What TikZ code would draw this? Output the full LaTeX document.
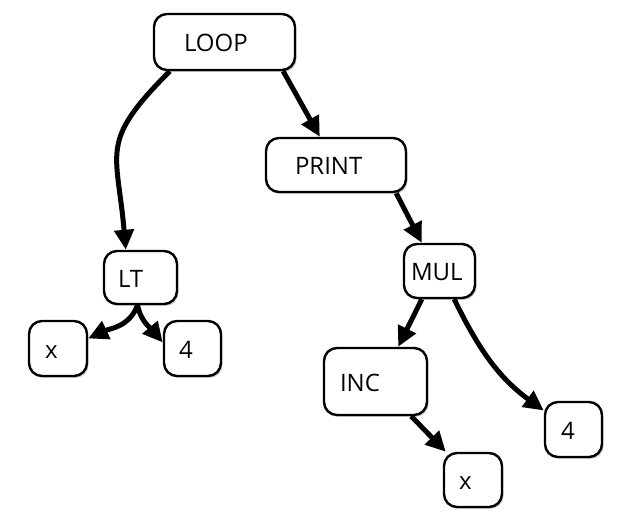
\documentclass[tikz,border=0pt]{standalone}
\usepackage{fontspec}
\setmainfont{Open Sans}
\usepackage{tikz}
\usetikzlibrary{arrows.meta,shadows}

\begin{document}
\begin{tikzpicture}[->,>={Triangle[length=20pt,width=19pt]},line width=5pt,
                    x=1pt,y=1pt,
                    font=\fontsize{24}{29}\selectfont,
                    box/.style={draw,-,fill=white,line width=2.4pt,
                      rounded corners=13pt,align=left,
                      text height=20pt,text depth=0pt,inner ysep=0pt,
                      drop shadow={shadow xshift=1.5pt,shadow yshift=-2pt,
                                   opacity=0.2,fill=black}}]

\useasboundingbox (0,0) rectangle (624,516);

\node[box,text width=81pt,inner xsep=30pt,minimum height=56pt] (LOOP) at(224.5,474) {LOOP};
\node[box,text width=82pt,inner xsep=29pt,minimum height=54pt] (PRINT) at(336,351) {PRINT};
\node[box,text width=45pt,inner xsep=14pt,minimum height=53pt] (LT) at(140.5,238.5) {LT};
\node[box,text width=26pt,inner xsep=16pt,minimum height=55pt] (X1) at(58,167.5) {x};
\node[box,text width=27pt,inner xsep=15pt,minimum height=55pt] (FOUR1) at(192.5,167.5) {4};
\node[box,text width=57pt,inner xsep=7pt,minimum height=54pt] (MUL) at(439.5,245) {MUL};
\node[box,text width=71pt,inner xsep=16pt,minimum height=67pt] (INC) at(375.5,134.5) {INC};
\node[box,text width=25pt,inner xsep=16pt,minimum height=55pt] (FOUR2) at(573.5,86.5) {4};
\node[box,text width=28pt,inner xsep=15pt,minimum height=54pt] (X2) at(473,36) {x};

\path ([xshift=-13pt]LOOP.south east) edge ([xshift=55pt]PRINT.north west)
      ([xshift=17pt]LOOP.south west) edge[out=225,in=95,looseness=1.4] ([xshift=23pt]LT.north west);
\path ([xshift=-3pt]LT.south) edge[out=-110,in=25] ([yshift=10pt]X1.east)
      ([xshift=-3pt]LT.south) edge[out=-78,in=130] ([yshift=6pt]FOUR1.west);
\path ([xshift=-11pt]PRINT.south east) edge ([xshift=19pt]MUL.north west);
\path ([xshift=19pt]MUL.south west) edge ([xshift=-30pt]INC.north east)
      ([xshift=-22pt]MUL.south east) edge[out=-64,in=144] ([yshift=19pt]FOUR2.west);
\path ([xshift=-17pt]INC.south east) edge ([xshift=3pt]X2.north west);
\end{tikzpicture}
\end{document}
